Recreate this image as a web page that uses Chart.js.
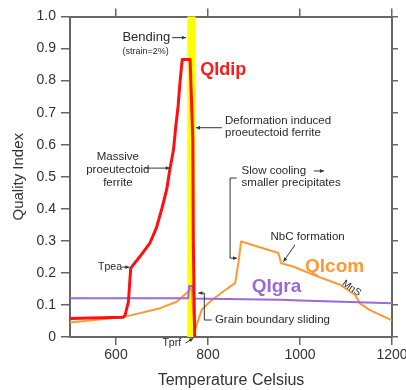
<!DOCTYPE html>
<html>
<head>
<meta charset="utf-8">
<script src="https://cdn.jsdelivr.net/npm/chart.js@4.4.1/dist/chart.umd.min.js"></script>
<style>
  html, body { margin: 0; padding: 0; background: #fff; }
  #wrap { width: 406px; height: 390px; position: relative; }
</style>
</head>
<body>
<div id="wrap"><canvas id="c" width="406" height="390"></canvas></div>
<script>
// ---- data ----
const xTicks = [600, 800, 1000, 1200];
const xTickLabels = ['600', '800', '1000', '1200'];
const yTicks = [0, 0.1, 0.2, 0.3, 0.4, 0.5, 0.6, 0.7, 0.8, 0.9, 1.0];
const yTickLabels = ['0', '0.1', '0.2', '0.3', '0.4', '0.5', '0.6', '0.7', '0.8', '0.9', '1.0'];

const dipTemp = [500, 616, 620, 627, 632, 652, 674, 688, 699, 710, 717, 725, 730, 735, 739, 744, 761, 767, 768, 771];
const dipQI   = [0.058, 0.062, 0.069, 0.110, 0.215, 0.251, 0.294, 0.341, 0.397, 0.459, 0.522, 0.584, 0.657, 0.720, 0.793, 0.866, 0.866, 0.616, 0.303, 0.0];

const comTemp = [500, 616, 696, 732, 757, 764, 771, 779, 786, 804, 833, 859, 866, 872, 953, 959, 985, 1029, 1087, 1120, 1130, 1152, 1200];
const comQI   = [0.045, 0.062, 0.090, 0.110, 0.142, 0.155, 0.017, 0.053, 0.084, 0.110, 0.142, 0.168, 0.230, 0.298, 0.262, 0.230, 0.220, 0.194, 0.163, 0.131, 0.105, 0.084, 0.052];

const graTemp = [500, 757, 759, 767, 770, 800, 957, 1000, 1200];
const graQI   = [0.121, 0.121, 0.159, 0.159, 0.120, 0.119, 0.116, 0.114, 0.105];

const bendBand = [755, 773];   // bending window (temperature)

const seriesNames = ['QIdip', 'QIgra', 'QIcom'];

function pts(xs, ys) { return xs.map((x, i) => ({ x: x, y: ys[i] })); }

// ---- annotations (data coordinates) ----
const texts = [
  { t: 'Bending', x: 614, y: 0.935, size: 13, align: 'left' },
  { t: '(strain=2%)', x: 614, y: 0.892, size: 9, align: 'left' },
  { t: 'QIdip', x: 783, y: 0.834, size: 18, bold: true, color: '#ff1a1a', align: 'left' },
  { t: 'Deformation induced', x: 837, y: 0.673, size: 11.5, align: 'left' },
  { t: 'proeutectoid ferrite', x: 837, y: 0.637, size: 11.5, align: 'left' },
  { t: 'Massive', x: 604, y: 0.563, size: 11.5, align: 'center' },
  { t: 'proeutectoid', x: 604, y: 0.522, size: 11.5, align: 'center' },
  { t: 'ferrite', x: 604, y: 0.482, size: 11.5, align: 'center' },
  { t: 'Slow cooling', x: 873, y: 0.517, size: 11.5, align: 'left' },
  { t: 'smaller precipitates', x: 873, y: 0.480, size: 11.5, align: 'left' },
  { t: 'NbC formation', x: 936, y: 0.313, size: 11.5, align: 'left' },
  { t: 'QIcom', x: 1011, y: 0.220, size: 19, bold: true, color: '#ff9933', align: 'left' },
  { t: 'QIgra', x: 895, y: 0.157, size: 19, bold: true, color: '#9b6ad6', align: 'left' },
  { t: 'MnS', x: 1112, y: 0.152, size: 10, align: 'center', rot: 35 },
  { t: 'Grain boundary sliding', x: 815, y: 0.053, size: 11.5, align: 'left' },
  { t: 'Tpea', x: 561, y: 0.218, size: 10.5, align: 'left' },
  { t: 'Tprf', x: 701, y: -0.020, size: 10.5, align: 'left' }
];
// polylines; arrow:true puts an arrowhead on the last point
const lines = [
  { p: [[722, 0.934], [752, 0.934]], arrow: true },
  { p: [[830, 0.653], [774, 0.653]], arrow: true },
  { p: [[663, 0.527], [717, 0.527]], arrow: true },
  { p: [[1030, 0.518], [1052, 0.518]], arrow: true },
  { p: [[862, 0.496], [848, 0.496], [848, 0.246], [863, 0.246]], arrow: true },
  { p: [[989, 0.2875], [964, 0.235]], arrow: true },
  { p: [[808, 0.053], [792, 0.053], [792, 0.137], [779, 0.137]], arrow: true },
  { p: [[612, 0.218], [629, 0.218]], arrow: true },
  { p: [[751, -0.019], [768, -0.004]], arrow: true }
];

const bandPlugin = {
  id: 'band',
  beforeDatasetsDraw(chart) {
    const { ctx, chartArea, scales } = chart;
    const x0 = scales.x.getPixelForValue(bendBand[0]);
    const x1 = scales.x.getPixelForValue(bendBand[1]);
    ctx.save();
    ctx.fillStyle = '#ffff00';
    ctx.fillRect(x0, chartArea.top, x1 - x0, chartArea.bottom - chartArea.top);
    ctx.restore();
  }
};

const annoPlugin = {
  id: 'anno',
  afterDraw(chart) {
    const { ctx, scales } = chart;
    const X = v => scales.x.getPixelForValue(v);
    const Y = v => scales.y.getPixelForValue(v);
    ctx.save();
    ctx.strokeStyle = '#333';
    ctx.fillStyle = '#333';
    ctx.lineWidth = 1;
    lines.forEach(l => {
      ctx.beginPath();
      l.p.forEach((q, i) => {
        const px = X(q[0]), py = Y(q[1]);
        if (i === 0) ctx.moveTo(px, py); else ctx.lineTo(px, py);
      });
      ctx.stroke();
      if (l.arrow) {
        const a = l.p[l.p.length - 2], b = l.p[l.p.length - 1];
        const ax = X(a[0]), ay = Y(a[1]), bx = X(b[0]), by = Y(b[1]);
        const ang = Math.atan2(by - ay, bx - ax);
        const s = 4.5;
        ctx.beginPath();
        ctx.moveTo(bx, by);
        ctx.lineTo(bx - s * Math.cos(ang - 0.45), by - s * Math.sin(ang - 0.45));
        ctx.lineTo(bx - s * Math.cos(ang + 0.45), by - s * Math.sin(ang + 0.45));
        ctx.closePath();
        ctx.fill();
      }
    });
    texts.forEach(t => {
      ctx.save();
      ctx.font = (t.bold ? 'bold ' : '') + t.size + 'px "Liberation Sans", Arial, sans-serif';
      ctx.fillStyle = t.color || '#2a2a2a';
      ctx.textAlign = t.align;
      ctx.textBaseline = 'middle';
      ctx.translate(X(t.x), Y(t.y));
      if (t.rot) ctx.rotate(t.rot * Math.PI / 180);
      ctx.fillText(t.t, 0, 0);
      ctx.restore();
    });
    ctx.restore();
  }
};

Chart.defaults.font.family = '"Liberation Sans", Arial, sans-serif';
Chart.defaults.color = '#333';

const axisColor = '#666';
const setXTicks = s => { s.ticks = xTicks.map(v => ({ value: v })); };
const setYTicks = s => { s.ticks = yTicks.map(v => ({ value: v })); };
const noPad = s => { s.paddingLeft = 0; s.paddingRight = 0; s.paddingTop = 0; s.paddingBottom = 0; };

new Chart(document.getElementById('c'), {
  type: 'line',
  data: {
    datasets: [
      { label: seriesNames[0], data: pts(dipTemp, dipQI), borderColor: '#ff1010', borderWidth: 3 },
      { label: seriesNames[1], data: pts(graTemp, graQI), borderColor: '#9b6ad6', borderWidth: 2 },
      { label: seriesNames[2], data: pts(comTemp, comQI), borderColor: '#ff9933', borderWidth: 2 }
    ]
  },
  options: {
    responsive: false,
    animation: false,
    elements: { point: { radius: 0 }, line: { tension: 0, borderJoinStyle: 'round' } },
    layout: { padding: 0 },
    plugins: { legend: { display: false }, tooltip: { enabled: false } },
    scales: {
      x: {
        type: 'linear', position: 'bottom', min: 500, max: 1200,
        afterBuildTicks: setXTicks,
        afterFit: s => { s.height = 53; noPad(s); },
        grid: { drawOnChartArea: false, drawTicks: true, tickLength: 8, color: axisColor, lineWidth: 1.5 },
        border: { display: true, color: axisColor, width: 2 },
        ticks: { font: { size: 14 }, color: '#333', padding: 2, maxRotation: 0, callback: (v, i) => xTickLabels[i] },
        title: { display: true, text: 'Temperature Celsius', font: { size: 16 }, color: '#333', padding: { top: 0, bottom: 0 } }
      },
      x2: {
        type: 'linear', position: 'top', min: 500, max: 1200,
        afterBuildTicks: setXTicks,
        afterFit: s => { s.height = 16.5; noPad(s); },
        grid: { drawOnChartArea: false, drawTicks: true, tickLength: 8, color: axisColor, lineWidth: 1.5 },
        border: { display: true, color: axisColor, width: 2 },
        ticks: { display: false }
      },
      y: {
        type: 'linear', position: 'left', min: 0, max: 1,
        afterBuildTicks: setYTicks,
        afterFit: s => { s.width = 70; noPad(s); },
        grid: { drawOnChartArea: false, drawTicks: true, tickLength: 9, color: axisColor, lineWidth: 1.5 },
        border: { display: true, color: axisColor, width: 2 },
        ticks: { font: { size: 14 }, color: '#333', padding: 5, callback: (v, i) => yTickLabels[i] },
        title: { display: true, text: 'Quality Index', font: { size: 15 }, color: '#333', padding: { top: 10, bottom: 0 } }
      },
      y2: {
        type: 'linear', position: 'right', min: 0, max: 1,
        afterBuildTicks: setYTicks,
        afterFit: s => { s.width = 14; noPad(s); },
        grid: { drawOnChartArea: false, drawTicks: true, tickLength: 6, color: axisColor, lineWidth: 1.5 },
        border: { display: true, color: axisColor, width: 2 },
        ticks: { display: false }
      }
    }
  },
  plugins: [bandPlugin, annoPlugin]
});
</script>
</body>
</html>
